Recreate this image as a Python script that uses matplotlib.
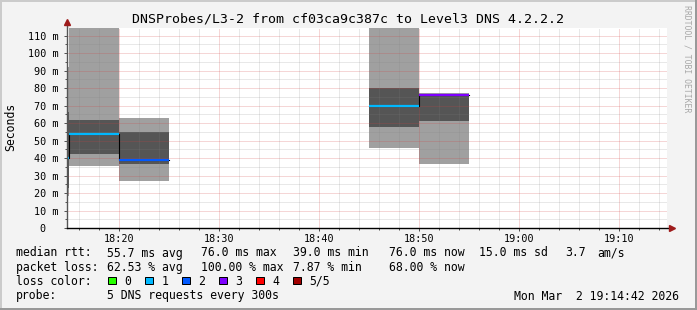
import numpy as np
import matplotlib
matplotlib.use("Agg")
import matplotlib.pyplot as plt
from matplotlib.patches import Rectangle
from matplotlib.ticker import MultipleLocator, FuncFormatter

W, H = 697, 310
nan = np.nan

# 5 minute probe slots, minutes after 18:00
slot_start = [10, 15, 20, 25, 30, 35, 40, 45, 50, 55, 60, 65, 70]
ping_1 = [18.5, 35.6, 27.0, nan, nan, nan, nan, 45.5, 36.8, nan, nan, nan, nan]
ping_2 = [23.1, 42.3, 36.8, nan, nan, nan, nan, 57.5, 61.3, nan, nan, nan, nan]
median = [40.0, 54.0, 39.0, nan, nan, nan, nan, 69.5, 76.0, nan, nan, nan, nan]
ping_4 = [66.4, 61.8, 55.0, nan, nan, nan, nan, 80.1, 76.0, nan, nan, nan, nan]
ping_5 = [92.3, 130.0, 63.0, nan, nan, nan, nan, 130.0, 77.0, nan, nan, nan, nan]
lost = [1, 1, 2, nan, nan, nan, nan, 1, 3, nan, nan, nan, nan]

loss_colors = ["#26ff00", "#00b8ff", "#0059ff", "#7e00ff", "#ff0000", "#a10000"]
loss_labels = ["0", "1", "2", "3", "4", "5/5"]

rtt_stats = ["55.7 ms avg", "76.0 ms max", "39.0 ms min", "76.0 ms now", "15.0 ms sd", "3.7", "am/s"]
loss_stats = ["62.53 % avg", "100.00 % max", "7.87 % min", "68.00 % now"]

title = "DNSProbes/L3-2 from cf03ca9c387c to Level3 DNS 4.2.2.2"
probe_text = "5 DNS requests every 300s"
stamp = "Mon Mar  2 19:14:42 2026"

MONO = "DejaVu Sans Mono"
plt.rcParams["font.family"] = MONO


def fx(x):
    return x / W


def fy(y):
    return 1 - y / H


fig = plt.figure(figsize=(W / 100, H / 100), dpi=100, facecolor="#f3f3f3")
ax = fig.add_axes([fx(67), fy(228), 600 / W, 200 / H])
ax.set_facecolor("white")
ax.set_xlim(14.8, 74.8)
ax.set_ylim(0, 114.4)

# smoke
starts = np.array(slot_start, dtype=float)
p1, p2, p4, p5 = (np.array(a) for a in (ping_1, ping_2, ping_4, ping_5))
ax.bar(starts, p5 - p1, bottom=p1, width=5, align="edge", color="#a0a0a0", lw=0, zorder=1)
ax.bar(starts, p4 - p2, bottom=p2, width=5, align="edge", color="#555555", lw=0, zorder=1.2)

# median: thin black step, coloured by loss on top
med = np.array(median)
ax.plot(np.append(starts, starts[-1] + 5), np.append(med, med[-1]),
        drawstyle="steps-post", color="black", lw=0.8, zorder=3)
for s, m, l in zip(slot_start, median, lost):
    if not np.isnan(m):
        ax.hlines(m, s, s + 5, color=loss_colors[int(l)], lw=1.6, zorder=4)

# grid
ax.xaxis.set_major_locator(MultipleLocator(10))
ax.xaxis.set_minor_locator(MultipleLocator(2))
ax.yaxis.set_major_locator(MultipleLocator(10))
ax.yaxis.set_minor_locator(MultipleLocator(5))
ax.set_axisbelow(False)
ax.grid(which="minor", color="#808080", alpha=0.35, lw=0.72, ls=(0, (1, 1)))
ax.grid(which="major", color="#d04040", alpha=0.42, lw=0.72, ls=(0, (1, 1)))
ax.set_ylim(0, 114.4)

ax.xaxis.set_major_formatter(FuncFormatter(lambda v, p: f"{18 + int(v) // 60}:{int(v) % 60:02d}"))
ax.yaxis.set_major_formatter(FuncFormatter(lambda v, p: "0  " if v == 0 else f"{int(v)} m"))
ax.tick_params(which="both", direction="out", color="#555555", width=0.72,
               labelsize=7.3, labelcolor="black")
ax.tick_params(axis="x", which="major", length=2, pad=2.5)
ax.tick_params(axis="x", which="minor", length=1.5)
ax.tick_params(axis="y", which="major", length=2, pad=4)
ax.tick_params(axis="y", which="minor", length=1.5)
for sp in ax.spines.values():
    sp.set_visible(False)

# axes with arrows
ax.plot([0, 0], [0, 1.03], transform=ax.transAxes, color="#555555", lw=1, clip_on=False, zorder=5)
ax.plot([0, 1.008], [0, 0], transform=ax.transAxes, color="black", lw=1, clip_on=False, zorder=5)
ax.plot([0], [1.03], marker="^", ms=4.5, color="#9e1b1b", transform=ax.transAxes, clip_on=False, zorder=6)
ax.plot([1.008], [0], marker=">", ms=4.5, color="#9e1b1b", transform=ax.transAxes, clip_on=False, zorder=6)

fig.text(fx(348.5), fy(18.5), title, ha="center", va="center", fontsize=9.5)
fig.text(fx(11), fy(127), "Seconds", rotation=90, ha="center", va="center", fontsize=8.3)
fig.text(fx(687.5), fy(59), "RRDTOOL / TOBI OETIKER", rotation=270, ha="center", va="center",
         fontsize=5.9, color="#a8a8a8")

# legend
row_y = [253, 267.5, 281.5, 296]
col_x = [107.3, 200.7, 292.7, 389.3, 479.3, 565, 597.7]
leg = dict(fontsize=8.3, va="center", ha="left")
fig.text(fx(16), fy(row_y[0]), "median rtt:", **leg)
for x, s in zip(col_x, rtt_stats):
    fig.text(fx(x), fy(row_y[0]), s, **leg)
fig.text(fx(16), fy(row_y[1]), "packet loss:", **leg)
for x, s in zip(col_x, loss_stats):
    fig.text(fx(x), fy(row_y[1]), s, **leg)
fig.text(fx(16), fy(row_y[2]), "loss color:", **leg)
for i, (c, s) in enumerate(zip(loss_colors, loss_labels)):
    bx = 108.3 + 37 * i
    fig.add_artist(Rectangle((fx(bx), fy(284)), 7.5 / W, 7.5 / H, transform=fig.transFigure,
                             facecolor=c, edgecolor="black", lw=0.72))
    fig.text(fx(bx + 16), fy(row_y[2]), s, **leg)
fig.text(fx(16), fy(row_y[3]), "probe:", **leg)
fig.text(fx(107.3), fy(row_y[3]), probe_text, **leg)
fig.text(fx(679.5), fy(row_y[3]), stamp, fontsize=8.3, va="center", ha="right")

# bevelled frame
fig.add_artist(Rectangle((0, fy(2)), 1, 2 / H, transform=fig.transFigure, color="#cbcbcb", lw=0))
fig.add_artist(Rectangle((0, 0), 2 / W, 1, transform=fig.transFigure, color="#cbcbcb", lw=0))
fig.add_artist(Rectangle((0, 0), 1, 2 / H, transform=fig.transFigure, color="#999999", lw=0))
fig.add_artist(Rectangle((fx(695), 0), 2 / W, 1, transform=fig.transFigure, color="#999999", lw=0))

fig.savefig("out.png", dpi=100, facecolor=fig.get_facecolor())
